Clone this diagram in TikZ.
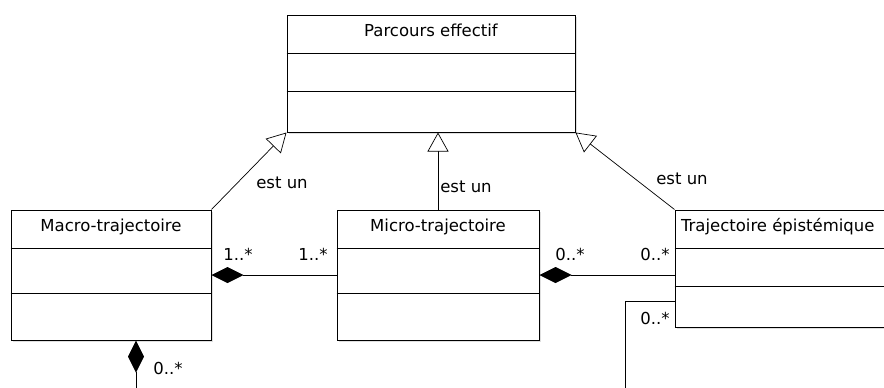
\documentclass[tikz,border=0pt]{standalone}
\usepackage{fontspec}
\setmainfont{DejaVu Sans}
\usetikzlibrary{arrows.meta, positioning, calc, shadows}

\begin{document}
\begin{tikzpicture}[x=1pt, y=-1pt, font=\fontsize{16.5}{19}\selectfont,
    classe/.style={draw, rectangle, line width=1pt, fill=white,
        drop shadow={opacity=0.25, shadow xshift=1.5pt, shadow yshift=-1.5pt}},
    separ/.style={line width=1pt},
    herite/.style={-{Triangle[open, length=19pt, width=21pt, fill=white]}, line width=0.7pt},
    compo/.style={{Diamond[length=32pt, width=16pt]}-, line width=0.8pt},
    assoc/.style={line width=0.8pt},
    mult/.style={inner sep=0pt}]

    \useasboundingbox (0,0) rectangle (884,388);

    % ================= Parcours effectif =================
    \node[classe, minimum width=288pt, minimum height=117pt] (parcours) at (431,73.5) {};
    \node[anchor=base] (parcourst) at ([yshift=-22pt]parcours.north) {Parcours effectif};
    \draw[separ] ([yshift=-39pt]parcours.north west) -- ([yshift=-39pt]parcours.north east);
    \draw[separ] ([yshift=-77pt]parcours.north west) -- ([yshift=-77pt]parcours.north east);

    % ================= Macro-trajectoire =================
    \node[classe, minimum width=200pt, minimum height=130pt] (macro) at (111,275) {};
    \node[anchor=base] (macrot) at ([yshift=-22pt]macro.north) {Macro-trajectoire};
    \draw[separ] ([yshift=-39pt]macro.north west) -- ([yshift=-39pt]macro.north east);
    \draw[separ] ([yshift=-84pt]macro.north west) -- ([yshift=-84pt]macro.north east);

    % ================= Micro-trajectoire =================
    \node[classe, minimum width=202pt, minimum height=130pt] (micro) at (438,275) {};
    \node[anchor=base] (microt) at ([yshift=-22pt]micro.north) {Micro-trajectoire};
    \draw[separ] ([yshift=-39pt]micro.north west) -- ([yshift=-39pt]micro.north east);
    \draw[separ] ([yshift=-84pt]micro.north west) -- ([yshift=-84pt]micro.north east);

    % ================= Trajectoire épistémique (coupée à droite) =================
    \node[classe, minimum width=215pt, minimum height=117pt] (traj) at (782.5,268.5) {};
    \node[anchor=base west] (trajt) at ([xshift=3pt, yshift=-22pt]traj.north west) {Trajectoire épistémique};
    \draw[separ] ([yshift=-39pt]traj.north west) -- ([yshift=-39pt]traj.north east);
    \draw[separ] ([yshift=-77pt]traj.north west) -- ([yshift=-77pt]traj.north east);

    % ================= Héritage (est un) =================
    \draw[herite] (macro.north east) -- (parcours.south west);
    \draw[herite] (micro.north) -- (micro.north |- parcours.south);
    \draw[herite] (traj.north west) -- (parcours.south east);
    \node (estun1) at (282,183) {est un};
    \node (estun2) at (466,187) {est un};
    \node (estun3) at (682,179) {est un};

    % ================= Compositions =================
    \draw[compo] (macro.east) -- (micro.west);
    \node[mult] (m1) at (238,254) {1..*};
    \node[mult] (m2) at (313,254) {1..*};

    \draw[compo] (micro.east) -- (micro.east -| traj.west);
    \node[mult] (m3) at (570,254) {0..*};
    \node[mult] (m4) at (655,254) {0..*};

    \coordinate (macrobas) at (136,392);
    \draw[compo] (macro.south -| macrobas) -- (macrobas);
    \node[mult] (m5) at (168,368) {0..*};

    % ================= Association vers le bas =================
    \coordinate (trajbas) at (625,392);
    \draw[assoc] ([yshift=-92pt]traj.north west) -| (trajbas);
    \node[mult] (m6) at (655,318) {0..*};

\end{tikzpicture}
\end{document}
